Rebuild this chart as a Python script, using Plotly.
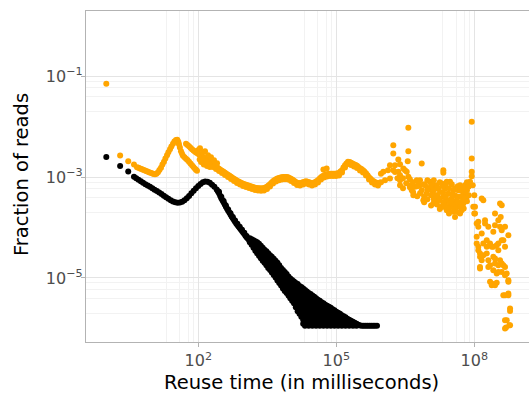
import numpy as np
import plotly.graph_objects as go

# ---- values, stored as (log10 reuse time [ms], log10 fraction of reads) ----
black_curve = [
    (0.000, -2.60), (0.301, -2.78), (0.477, -2.89), (0.602, -2.99),
    (0.65, -3.02), (0.70, -3.05), (0.75, -3.08), (0.80, -3.11), (0.85, -3.14), (0.90, -3.165),
    (0.95, -3.19), (1.00, -3.22), (1.05, -3.25), (1.10, -3.275), (1.15, -3.305), (1.20, -3.335),
    (1.25, -3.37), (1.30, -3.40), (1.35, -3.43), (1.40, -3.46), (1.45, -3.485), (1.50, -3.50),
    (1.55, -3.51), (1.60, -3.505), (1.65, -3.49), (1.70, -3.46), (1.75, -3.42), (1.80, -3.375),
    (1.85, -3.32), (1.90, -3.27), (1.95, -3.22), (2.00, -3.175), (2.05, -3.135), (2.10, -3.10),
    (2.15, -3.087), (2.20, -3.09), (2.25, -3.11), (2.30, -3.15), (2.35, -3.19), (2.40, -3.245),
    (2.425, -3.28), (2.45, -3.32), (2.475, -3.37), (2.50, -3.42), (2.525, -3.46), (2.55, -3.50),
    (2.575, -3.543), (2.60, -3.585), (2.625, -3.625), (2.65, -3.665), (2.675, -3.703), (2.70, -3.74),
    (2.725, -3.778), (2.75, -3.815), (2.775, -3.85), (2.80, -3.885), (2.825, -3.918), (2.85, -3.95),
    (2.875, -3.98), (2.90, -4.01), (2.925, -4.04), (2.95, -4.07), (2.975, -4.10), (3.00, -4.13),
    (3.025, -4.16), (3.05, -4.19), (3.075, -4.215), (3.10, -4.24),
    # slight thickening just after the peak
    (2.45, -3.29), (2.50, -3.39), (2.55, -3.475), (2.60, -3.56), (2.65, -3.64), (2.70, -3.715),
    (2.75, -3.79), (2.80, -3.86), (2.85, -3.925), (2.90, -3.985), (2.95, -4.045), (3.00, -4.105),
    (3.05, -4.165),
]

black_tail_time = [3.12, 3.16, 3.20, 3.24, 3.28, 3.32, 3.36, 3.40, 3.44, 3.48, 3.52, 3.56,
                   3.60, 3.64, 3.68, 3.72, 3.76, 3.80, 3.84, 3.88, 3.92, 3.96, 4.00, 4.04,
                   4.08, 4.12, 4.16, 4.20, 4.24, 4.28, 4.32, 4.36, 4.40, 4.44, 4.48, 4.52,
                   4.56, 4.60, 4.64, 4.68, 4.72, 4.76, 4.80, 4.84, 4.88, 4.92, 4.96, 5.00,
                   5.04, 5.08, 5.12, 5.16, 5.20, 5.24, 5.28, 5.32, 5.36, 5.40, 5.44, 5.48,
                   5.52, 5.56, 5.60, 5.64, 5.68, 5.72, 5.76, 5.80, 5.84, 5.885]
black_tail_fraction = [
    [-4.21, -4.25, -4.29],
    [-4.23, -4.29, -4.34],
    [-4.25, -4.32, -4.40],
    [-4.27, -4.33, -4.40, -4.46],
    [-4.29, -4.36, -4.44, -4.51],
    [-4.32, -4.40, -4.48, -4.56],
    [-4.36, -4.44, -4.53, -4.61],
    [-4.40, -4.47, -4.55, -4.62, -4.66],
    [-4.44, -4.51, -4.58, -4.64, -4.70],
    [-4.47, -4.54, -4.61, -4.68, -4.75],
    [-4.51, -4.58, -4.65, -4.72, -4.80],
    [-4.55, -4.62, -4.69, -4.77, -4.84],
    [-4.58, -4.66, -4.73, -4.81, -4.89],
    [-4.62, -4.70, -4.78, -4.86, -4.94],
    [-4.66, -4.74, -4.82, -4.91, -4.99],
    [-4.70, -4.78, -4.86, -4.93, -5.00, -5.05],
    [-4.75, -4.82, -4.89, -4.96, -5.03, -5.10],
    [-4.80, -4.87, -4.94, -5.01, -5.08, -5.15],
    [-4.84, -4.91, -4.99, -5.06, -5.13, -5.21],
    [-4.88, -4.95, -5.03, -5.11, -5.19, -5.26],
    [-4.92, -5.00, -5.08, -5.15, -5.23, -5.30],
    [-4.97, -5.04, -5.12, -5.20, -5.28, -5.35],
    [-5.01, -5.08, -5.16, -5.24, -5.32, -5.40],
    [-5.04, -5.12, -5.20, -5.27, -5.34, -5.41, -5.45],
    [-5.07, -5.14, -5.21, -5.29, -5.36, -5.43, -5.50],
    [-5.10, -5.17, -5.25, -5.32, -5.40, -5.47, -5.54, -5.58],
    [-5.12, -5.20, -5.28, -5.35, -5.43, -5.51, -5.58, -5.66],
    [-5.16, -5.24, -5.31, -5.39, -5.47, -5.55, -5.63, -5.71],
    [-5.18, -5.26, -5.33, -5.40, -5.48, -5.55, -5.62, -5.70, -5.77],
    [-5.21, -5.29, -5.37, -5.44, -5.52, -5.59, -5.67, -5.75, -5.83, -5.91],
    [-5.24, -5.32, -5.40, -5.48, -5.56, -5.63, -5.71, -5.79, -5.87, -5.95],
    [-5.27, -5.35, -5.43, -5.51, -5.59, -5.67, -5.75, -5.83, -5.91],
    [-5.30, -5.38, -5.46, -5.54, -5.62, -5.70, -5.78, -5.86, -5.95],
    [-5.32, -5.40, -5.48, -5.56, -5.64, -5.72, -5.80, -5.88],
    [-5.35, -5.43, -5.51, -5.58, -5.66, -5.74, -5.81, -5.88, -5.95],
    [-5.37, -5.45, -5.53, -5.61, -5.69, -5.77, -5.85, -5.92],
    [-5.40, -5.48, -5.56, -5.63, -5.71, -5.79, -5.87, -5.95],
    [-5.43, -5.51, -5.59, -5.67, -5.75, -5.83, -5.91],
    [-5.45, -5.52, -5.60, -5.67, -5.74, -5.81, -5.88, -5.95],
    [-5.48, -5.55, -5.62, -5.70, -5.78, -5.85, -5.92],
    [-5.50, -5.58, -5.65, -5.72, -5.80, -5.87, -5.95],
    [-5.53, -5.61, -5.69, -5.76, -5.84, -5.91],
    [-5.55, -5.62, -5.69, -5.76, -5.82, -5.88, -5.95],
    [-5.57, -5.65, -5.73, -5.80, -5.87, -5.92],
    [-5.59, -5.66, -5.73, -5.80, -5.87, -5.95],
    [-5.62, -5.69, -5.76, -5.83, -5.91],
    [-5.64, -5.72, -5.79, -5.87, -5.95],
    [-5.67, -5.74, -5.81, -5.88, -5.93],
    [-5.69, -5.76, -5.82, -5.89, -5.95],
    [-5.71, -5.78, -5.85, -5.92],
    [-5.74, -5.81, -5.88, -5.95],
    [-5.76, -5.83, -5.91],
    [-5.78, -5.86, -5.95],
    [-5.81, -5.87, -5.92],
    [-5.83, -5.89, -5.95],
    [-5.85, -5.92],
    [-5.87, -5.95],
    [-5.89, -5.94],
    [-5.91, -5.95],
    [-5.93],
    [-5.945], [-5.95], [-5.95], [-5.95], [-5.95], [-5.95], [-5.95], [-5.95], [-5.95], [-5.95],
]

orange_curve = [
    (0.000, -1.149), (0.301, -2.569), (0.477, -2.683), (0.602, -2.748),
    (0.667, -2.802), (0.70, -2.815), (0.733, -2.827), (0.765, -2.84), (0.798, -2.851), (0.83, -2.864),
    (0.863, -2.877), (0.895, -2.89), (0.928, -2.901), (0.96, -2.913), (0.993, -2.925), (1.026, -2.935),
    (1.059, -2.940), (1.09, -2.93), (1.124, -2.901), (1.155, -2.86), (1.189, -2.812), (1.22, -2.75),
    (1.254, -2.692), (1.285, -2.63), (1.320, -2.563), (1.35, -2.505), (1.385, -2.444), (1.415, -2.39),
    (1.450, -2.335), (1.48, -2.295), (1.515, -2.262), (1.543, -2.256),
    # first falling strand
    (1.565, -2.30), (1.580, -2.345), (1.60, -2.41), (1.624, -2.484), (1.645, -2.53), (1.667, -2.573),
    (1.70, -2.605), (1.733, -2.633), (1.765, -2.66), (1.798, -2.692), (1.83, -2.727), (1.863, -2.762),
    (1.895, -2.797), (1.928, -2.831), (1.95, -2.851), (1.972, -2.871),
    # main strand
    (1.733, -2.335), (1.765, -2.36), (1.798, -2.385), (1.83, -2.415), (1.863, -2.444), (1.895, -2.47),
    (1.928, -2.494), (1.96, -2.515), (1.993, -2.534), (2.026, -2.555), (2.059, -2.573), (2.09, -2.60),
    (2.124, -2.623), (2.155, -2.643), (2.189, -2.663), (2.22, -2.688), (2.254, -2.712), (2.29, -2.732),
    (2.320, -2.752), (2.35, -2.772), (2.385, -2.792), (2.42, -2.812), (2.450, -2.831), (2.48, -2.851),
    (2.515, -2.871), (2.55, -2.891), (2.580, -2.911), (2.61, -2.93), (2.646, -2.950), (2.68, -2.97),
    (2.711, -2.990), (2.74, -3.01), (2.776, -3.030), (2.81, -3.05), (2.841, -3.069), (2.874, -3.084),
    (2.907, -3.099), (2.94, -3.114), (2.972, -3.129), (3.005, -3.139), (3.037, -3.149), (3.07, -3.159),
    (3.102, -3.169), (3.135, -3.178), (3.167, -3.188), (3.20, -3.198), (3.233, -3.208), (3.265, -3.213),
    (3.298, -3.218), (3.33, -3.221), (3.363, -3.224), (3.395, -3.221), (3.428, -3.218), (3.46, -3.205),
    (3.493, -3.188), (3.525, -3.165), (3.559, -3.139), (3.59, -3.11), (3.624, -3.079), (3.655, -3.06),
    (3.689, -3.040), (3.72, -3.028), (3.754, -3.016), (3.787, -3.008), (3.820, -3.000), (3.85, -2.998),
    (3.885, -2.996), (3.92, -2.998), (3.950, -3.000), (3.98, -3.015), (4.015, -3.030), (4.05, -3.05),
    (4.080, -3.069), (4.11, -3.09), (4.146, -3.109), (4.18, -3.115), (4.211, -3.119), (4.245, -3.11),
    (4.276, -3.099), (4.31, -3.09), (4.341, -3.079), (4.375, -3.09), (4.407, -3.099), (4.44, -3.11),
    (4.472, -3.119), (4.505, -3.11), (4.537, -3.099), (4.57, -3.08), (4.602, -3.060), (4.635, -3.03),
    (4.667, -3.000), (4.70, -2.98), (4.733, -2.960), (4.765, -2.95), (4.798, -2.940), (4.83, -2.935),
    (4.863, -2.931), (4.895, -2.931), (4.928, -2.931), (4.96, -2.93), (4.993, -2.931), (5.025, -2.925),
    (5.059, -2.921), (5.09, -2.89), (5.124, -2.861), (5.155, -2.81), (5.189, -2.762), (5.22, -2.73),
    (5.254, -2.696), (5.29, -2.70), (5.320, -2.712), (5.35, -2.727), (5.385, -2.742), (5.42, -2.757),
    (5.450, -2.772), (5.48, -2.797), (5.515, -2.821), (5.545, -2.84), (5.580, -2.861), (5.61, -2.89),
    (5.646, -2.921), (5.68, -2.96), (5.711, -3.000), (5.745, -3.03), (5.776, -3.060), (5.81, -3.08),
    (5.841, -3.099), (5.875, -3.11), (5.907, -3.119), (5.94, -3.11), (5.972, -3.099),
]

# lower side of the thick orange band
orange_band_lower = [
    (2.059, -2.618), (2.124, -2.668), (2.189, -2.708), (2.254, -2.757), (2.320, -2.797), (2.385, -2.837),
    (2.450, -2.876), (2.515, -2.916), (2.580, -2.956), (2.646, -2.995), (2.711, -3.035), (2.776, -3.075),
    (2.841, -3.114), (2.907, -3.144), (2.972, -3.174), (3.037, -3.194), (3.102, -3.214), (3.167, -3.233),
    (3.233, -3.253), (3.298, -3.263), (3.363, -3.269), (3.428, -3.263), (3.493, -3.233), (3.559, -3.184),
    (3.624, -3.124), (3.689, -3.085), (3.754, -3.061), (3.820, -3.045), (3.885, -3.041), (3.950, -3.045),
    (4.015, -3.075), (4.080, -3.114), (4.146, -3.154), (4.211, -3.164), (4.276, -3.144), (4.341, -3.124),
    (4.407, -3.144), (4.472, -3.164), (4.537, -3.144), (4.602, -3.105), (4.667, -3.045), (4.733, -3.005),
    (4.798, -2.985), (4.863, -2.976), (4.928, -2.976), (4.993, -2.976), (5.059, -2.966), (5.124, -2.906),
    (5.189, -2.807), (5.254, -2.741), (5.320, -2.757), (5.385, -2.787), (5.450, -2.817), (5.515, -2.866),
    (5.580, -2.906), (5.646, -2.966), (5.711, -3.045), (5.776, -3.105), (5.841, -3.144), (5.907, -3.164),
]

orange_noise = [
    (1.993, -2.464), (2.037, -2.425), (2.102, -2.504), (2.146, -2.484), (2.211, -2.563),
    (2.276, -2.603), (2.341, -2.663), (2.407, -2.722), (2.03, -2.65), (2.06, -2.70),
    (2.10, -2.66), (2.12, -2.75), (2.17, -2.70), (2.19, -2.78), (2.25, -2.80),
    (4.72, -2.85), (4.79, -2.83), (5.97, -2.93),
]

orange_tail = [
    (6.022, -2.895), (6.059, -3.060), (6.167, -3.026), (6.239, -2.861), (6.276, -2.762),
    (6.239, -2.365), (6.239, -2.530), (6.348, -2.649), (6.348, -2.895), (6.385, -2.960),
    (6.457, -2.827), (6.531, -2.895), (6.566, -2.022), (6.566, -2.484), (6.553, -2.683),
    (6.566, -2.994), (6.603, -3.159), (6.640, -3.258), (6.675, -3.357), (6.712, -3.192),
    (6.749, -3.060), (6.784, -3.093), (6.820, -3.159), (6.857, -2.728), (6.857, -3.258),
    (6.892, -3.456), (6.929, -3.159), (6.966, -3.323), (7.000, -3.224), (7.037, -3.093),
    (7.074, -3.258), (7.109, -3.522), (7.109, -3.159), (7.146, -3.357), (7.146, -3.456),
    (7.183, -3.159), (7.218, -3.456), (7.218, -3.224), (7.255, -3.292), (7.292, -3.589),
    (7.292, -3.125), (7.327, -2.861), (7.327, -2.915), (7.327, -3.391), (7.327, -3.589),
    (7.364, -3.490), (7.364, -3.224), (7.401, -3.655), (7.401, -3.093), (7.435, -3.323),
    (7.435, -3.456), (7.472, -3.093), (7.472, -3.522), (7.509, -3.423), (7.509, -3.589),
    (7.544, -3.258), (7.544, -3.688), (7.581, -3.788), (7.581, -3.357), (7.618, -3.589),
    (7.618, -3.456), (7.653, -3.391), (7.653, -3.258), (7.690, -3.720), (7.690, -3.159),
    (7.727, -3.490), (7.727, -3.655), (7.761, -3.292), (7.761, -3.522), (7.798, -3.159),
    (7.798, -3.323), (7.835, -3.391), (7.870, -3.192), (7.907, -3.093), (7.944, -1.903),
    (7.944, -2.629), (7.944, -2.895), (7.944, -2.980), (7.966, -3.159), (8.000, -3.357),
    (8.015, -3.589), (8.000, -3.720), (8.052, -3.919), (8.087, -3.986), (8.052, -4.184),
    (8.087, -4.383), (8.124, -4.514), (8.124, -4.581), (8.124, -4.811), (8.161, -3.423),
    (8.161, -4.647), (8.196, -3.456), (8.196, -4.315), (8.233, -3.853), (8.270, -4.383),
    (8.270, -4.514), (8.305, -3.986), (8.305, -4.647), (8.342, -4.315), (8.342, -4.746),
    (8.342, -5.077), (8.379, -5.143), (8.413, -4.085), (8.413, -4.383), (8.413, -4.581),
    (8.413, -4.845), (8.450, -3.952), (8.450, -4.712), (8.487, -4.349), (8.487, -4.911),
    (8.487, -5.097), (8.522, -4.315), (8.522, -4.746), (8.559, -3.522), (8.559, -4.647),
    (8.574, -3.788), (8.596, -4.052), (8.596, -4.250), (8.596, -4.879), (8.631, -4.250),
    (8.631, -4.746), (8.668, -3.986), (8.668, -4.383), (8.668, -4.780), (8.668, -5.341),
    (8.705, -4.911), (8.705, -5.837), (8.690, -5.982), (8.740, -4.151), (8.740, -5.077),
    (8.740, -5.307), (8.762, -5.936), (8.777, -5.605), (8.777, -5.653),
    # denser cluster between 10^6 and 10^8
    (6.124, -2.861), (6.167, -2.762), (6.276, -2.90), (6.33, -3.02), (6.385, -2.742), (6.494, -2.861),
    (6.385, -3.06), (6.385, -3.16), (6.45, -3.02), (6.45, -3.22), (6.52, -3.12), (6.60, -3.04),
    (6.60, -3.20), (6.67, -3.10), (6.67, -3.30), (6.76, -3.18), (6.76, -3.38), (6.82, -3.06),
    (6.82, -3.32), (6.91, -3.14), (6.91, -3.38), (6.91, -3.50), (6.98, -3.06), (6.98, -3.24),
    (6.98, -3.44), (7.06, -3.16), (7.06, -3.36), (7.06, -3.56), (7.12, -3.06), (7.12, -3.26),
    (7.12, -3.44), (7.19, -3.22), (7.19, -3.36), (7.19, -3.54), (7.25, -3.10), (7.25, -3.42),
    (7.25, -3.63), (7.32, -3.18), (7.32, -3.30), (7.32, -3.50), (7.38, -3.14), (7.38, -3.38),
    (7.38, -3.58), (7.45, -3.22), (7.45, -3.62), (7.45, -3.72), (7.51, -3.14), (7.51, -3.34),
    (7.51, -3.50), (7.58, -3.22), (7.58, -3.54), (7.58, -3.65), (7.64, -3.18), (7.64, -3.50),
    (7.64, -3.69), (7.71, -3.26), (7.71, -3.38), (7.71, -3.58), (7.77, -3.22), (7.77, -3.44),
    (7.77, -3.62), (7.84, -3.10), (7.84, -3.26), (7.84, -3.48), (7.88, -3.18), (7.88, -3.36),
    # falling part after 10^8
    (8.015, -3.720), (8.087, -3.887), (8.233, -3.919), (8.450, -3.720), (8.522, -3.853),
    (8.559, -3.986), (8.161, -4.117), (8.270, -4.250), (8.379, -4.383), (8.522, -4.448),
    (8.087, -4.448), (8.196, -4.548), (8.450, -4.613), (8.596, -4.712), (8.305, -4.780),
    (8.522, -4.879), (8.668, -4.944), (8.740, -5.044), (8.379, -5.109), (8.450, -5.143),
    (8.631, -5.341), (8.740, -5.341), (8.668, -5.837), (8.777, -5.936), (8.668, -6.002),
    (8.596, -3.555), (7.978, -3.589), (8.052, -4.315), (8.124, -4.780),
]

x_tick_values = [1e2, 1e5, 1e8]
x_tick_labels = ["10<sup>2</sup>", "10<sup>5</sup>", "10<sup>8</sup>"]
y_tick_values = [1e-5, 1e-3, 1e-1]
y_tick_labels = ["10<sup>\u22125</sup>", "10<sup>\u22123</sup>", "10<sup>\u22121</sup>"]
x_minor_values = [20, 40, 60, 80, 2e4, 4e4, 6e4, 8e4, 2e7, 4e7, 6e7, 8e7]
y_minor_values = [2e-6, 4e-6, 6e-6, 8e-6, 2e-4, 4e-4, 6e-4, 8e-4, 2e-2, 4e-2, 6e-2, 8e-2]

# ---- build series ----
bx = [p[0] for p in black_curve]
by = [p[1] for p in black_curve]
for t, ys in zip(black_tail_time, black_tail_fraction):
    for y in ys:
        bx.append(t)
        by.append(y)

orange_all = orange_curve + orange_band_lower + orange_noise + orange_tail
ox = [p[0] for p in orange_all]
oy = [p[1] for p in orange_all]

fig = go.Figure()
fig.add_trace(go.Scatter(x=10 ** np.array(bx), y=10 ** np.array(by), mode="markers",
                         marker=dict(color="black", size=6, line=dict(width=0)),
                         name="black", hoverinfo="x+y"))
fig.add_trace(go.Scatter(x=10 ** np.array(ox), y=10 ** np.array(oy), mode="markers",
                         marker=dict(color="#FFA500", size=6, line=dict(width=0)),
                         name="orange", hoverinfo="x+y"))

axis_common = dict(
    type="log", showgrid=True, gridcolor="#e4e4e4", gridwidth=1, zeroline=False,
    ticks="outside", ticklen=4, tickwidth=1, tickcolor="#b3b3b3",
    tickfont=dict(family="DejaVu Sans", size=16, color="#4d4d4d"),
    showline=True, linecolor="#b3b3b3", linewidth=1.2,
)

fig.update_xaxes(**axis_common, range=[-0.441, 9.189], tickvals=x_tick_values,
                 ticktext=x_tick_labels, mirror=True,
                 minor=dict(tickvals=x_minor_values, showgrid=True, gridcolor="#f2f2f2",
                            gridwidth=0.6, ticks=""))
fig.update_yaxes(**axis_common, range=[-6.27, 0.296], tickvals=y_tick_values,
                 ticktext=y_tick_labels, mirror=False, ticklabelstandoff=-5,
                 minor=dict(tickvals=y_minor_values, showgrid=True, gridcolor="#f2f2f2",
                            gridwidth=0.6, ticks=""))

fig.update_layout(
    width=529, height=394,
    margin=dict(l=86, r=0, t=11, b=52, pad=0),
    paper_bgcolor="white", plot_bgcolor="white",
    showlegend=False,
    font=dict(family="DejaVu Sans", color="black"),
    annotations=[
        dict(text="Reuse time (in milliseconds)", xref="paper", yref="paper",
             x=(301 - 86) / 443, y=-0.123, xanchor="center", yanchor="middle",
             showarrow=False, font=dict(size=19.5, color="black")),
        dict(text="Fraction of reads", xref="paper", yref="paper",
             x=(21 - 86) / 443, y=0.5045, xanchor="center", yanchor="middle",
             textangle=-90, showarrow=False, font=dict(size=19.5, color="black")),
    ],
)

fig.write_html("out.html")
